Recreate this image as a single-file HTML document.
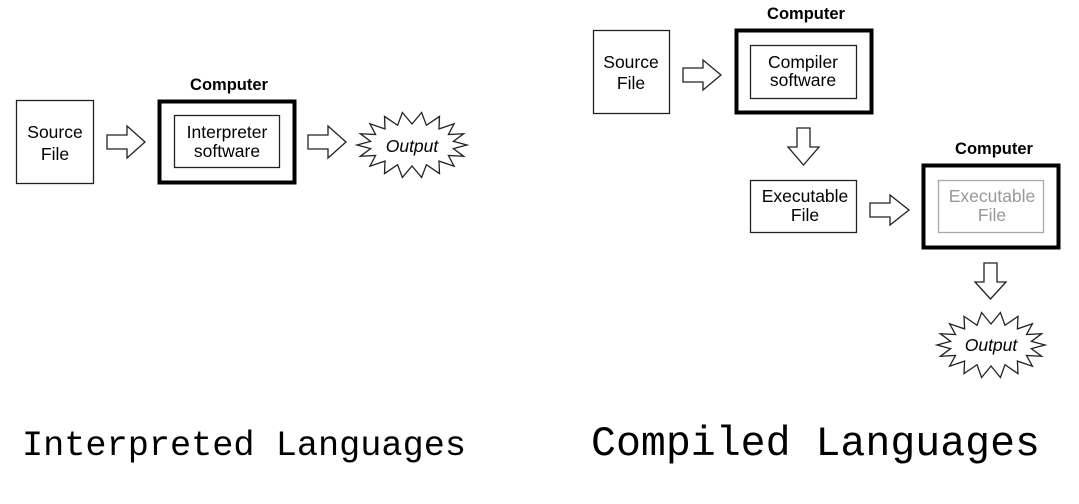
<!DOCTYPE html>
<html><head><meta charset="utf-8"><style>
html,body{margin:0;padding:0;background:#fff;width:1079px;height:504px;overflow:hidden}
svg{display:block}
.s{font-family:"Liberation Sans",sans-serif;font-size:17.5px;text-anchor:middle}
.b{font-family:"Liberation Sans",sans-serif;font-size:16.5px;font-weight:bold;text-anchor:middle}
.m{font-family:"Liberation Mono",monospace;text-anchor:start}
</style></head><body>
<svg id="g" width="1079" height="504" viewBox="0 0 1079 504" xmlns="http://www.w3.org/2000/svg">
<g fill="#fff" stroke="#222">
<rect x="16.5" y="100.5" width="77" height="83" stroke-width="1.3"/>
<rect x="159.5" y="101.5" width="135" height="81" stroke-width="4" stroke="#000"/>
<rect x="174.5" y="115.5" width="105" height="52" stroke-width="1.3"/>
<polygon points="107,135 127,135 127,126 145,142 127,158 127,149 107,149" stroke-width="1.3"/>
<polygon points="308,135 328,135 328,126 346,142 328,158 328,149 308,149" stroke-width="1.3"/>
<polygon id="st1" stroke-width="1.3"/>
<rect x="593.5" y="30.5" width="76" height="83" stroke-width="1.3"/>
<rect x="736.5" y="30.5" width="135" height="82" stroke-width="4" stroke="#000"/>
<rect x="750.5" y="45.5" width="106" height="53" stroke-width="1.3"/>
<polygon points="683,68 703,68 703,60 721,75 703,90 703,82 683,82" stroke-width="1.3"/>
<polygon points="797,128 810,128 810,147 819,147 803.5,165 788,147 797,147" stroke-width="1.3"/>
<rect x="750.5" y="180.5" width="106" height="52" stroke-width="1.3"/>
<polygon points="870,203 890,203 890,195 909,210 890,225 890,217 870,217" stroke-width="1.3"/>
<rect x="923.5" y="165.5" width="135" height="82" stroke-width="4" stroke="#000"/>
<rect x="938.5" y="180.5" width="105" height="52" stroke-width="1.3" stroke="#aaa"/>
<polygon points="984,263 997,263 997,282 1006,282 990.5,299 975,282 984,282" stroke-width="1.3"/>
<polygon id="st2" stroke-width="1.3"/>
</g>
<text class="b" x="229" y="90">Computer</text>
<text class="s" x="55" y="138">Source</text><text class="s" x="55" y="160">File</text>
<text class="s" x="227" y="138">Interpreter</text><text class="s" x="227" y="157">software</text>
<text class="s" x="412" y="152" font-style="italic">Output</text>
<text class="b" x="806" y="19">Computer</text>
<text class="s" x="631" y="68">Source</text><text class="s" x="631" y="89">File</text>
<text class="s" x="803" y="68">Compiler</text><text class="s" x="803" y="86">software</text>
<text class="s" x="805" y="202">Executable</text><text class="s" x="805" y="221">File</text>
<text class="b" x="994" y="154">Computer</text>
<text class="s" x="992" y="202" fill="#999">Executable</text><text class="s" x="992" y="221" fill="#999">File</text>
<text class="s" x="991" y="351" font-style="italic">Output</text>
<text class="m" x="22" y="455" font-size="35" textLength="444" lengthAdjust="spacingAndGlyphs">Interpreted Languages</text>
<text class="m" x="591" y="455" font-size="42" textLength="449" lengthAdjust="spacingAndGlyphs">Compiled Languages</text>
</svg>
<script>
function star(id,cx,cy,rx,ry,irx,iry,n){var p=[];for(var i=0;i<2*n;i++){var a=Math.PI*i/n;var o=i%2==0;var x=cx+(o?rx:irx)*Math.cos(a),y=cy+(o?ry:iry)*Math.sin(a);p.push(x.toFixed(1)+","+y.toFixed(1));}document.getElementById(id).setAttribute("points",p.join(" "));}
star("st1",412,145,55,33,42,21,18);
star("st2",991,345,54,33,41,21,18);
</script>
</body></html>
